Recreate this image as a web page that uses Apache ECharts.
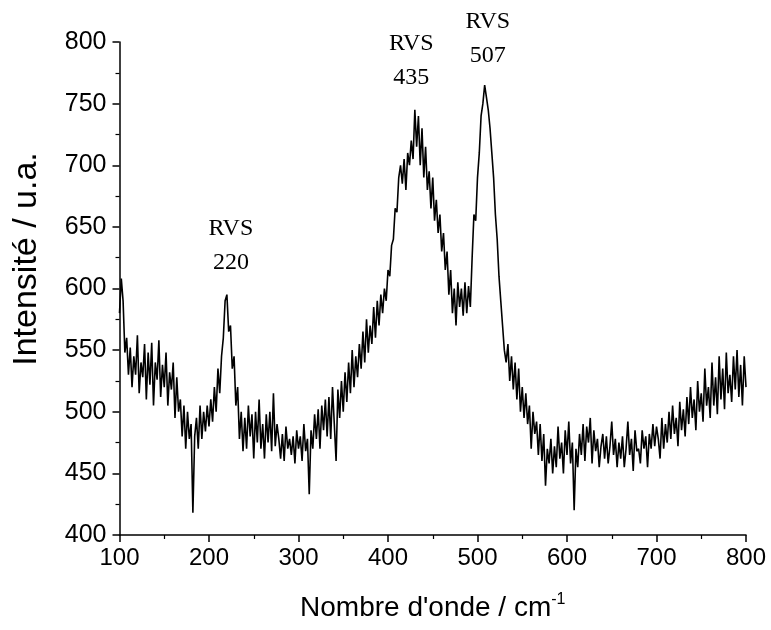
<!DOCTYPE html>
<html><head><meta charset="utf-8">
<script src="https://cdn.jsdelivr.net/npm/echarts@6/dist/echarts.min.js"></script>
<style>html,body{margin:0;padding:0;background:#fff}#c{width:771px;height:630px}</style>
</head><body><div id="c"></div>
<script>
// Wavenumber grid (cm-1), step 2
const xStart = 100, xStep = 2;
// Intensity values
const intensity = [
580,608,590,548,560,530,552,520,545,530,
562,515,540,528,555,510,548,522,556,505,
540,526,558,512,538,520,548,505,532,518,
540,495,528,500,510,480,505,470,500,478,
490,418,480,495,470,505,478,500,484,505,
488,510,492,520,500,535,515,545,560,590,
595,565,570,535,545,505,520,478,500,468,
495,470,505,480,498,462,500,475,510,470,
490,462,498,475,500,468,515,472,490,478,
462,482,460,488,470,478,465,480,458,485,
470,480,460,490,468,478,433,485,470,498,
478,502,470,505,485,510,480,512,478,520,
490,460,518,495,525,500,532,508,540,515,
550,520,545,528,555,535,565,540,575,548,
570,555,585,560,590,570,595,580,600,590,
615,610,635,640,665,662,690,700,685,705,
680,710,700,720,705,745,715,740,700,730,
690,715,680,695,665,690,655,672,645,660,
630,645,615,630,595,615,580,600,570,605,
585,600,578,605,580,602,585,625,660,655,
690,710,740,750,765,755,745,730,710,690,
660,640,610,590,570,550,540,555,525,545,
518,540,510,535,500,520,495,515,490,505,
470,500,482,492,465,490,460,482,440,470,
458,478,450,472,455,488,462,475,450,485,
465,492,458,475,420,470,455,482,465,490,
460,488,475,495,458,485,468,478,455,472,
482,462,480,458,472,492,465,478,455,475,
462,480,455,470,492,465,478,452,485,468,
470,458,485,470,480,455,482,470,490,472,
488,478,462,495,470,490,475,500,478,505,
482,495,472,508,485,502,480,512,490,520,
495,510,485,525,500,515,492,535,505,520,
495,540,505,528,498,545,510,535,502,548,
515,530,508,545,518,550,512,538,505,545,
520
];
const xTicks = [100,200,300,400,500,600,700,800];
const yTicks = [400,450,500,550,600,650,700,750,800];
const peakLabels = [
  {text:'RVS\n220', x:220},
  {text:'RVS\n435', x:435},
  {text:'RVS\n507', x:507}
];

const data = intensity.map((v,i)=>[xStart + i*xStep, v]);
const chart = echarts.init(document.getElementById('c'));
const FONT = 'Liberation Sans, Arial';
const axisCommon = {
  axisLine:{show:true,onZero:false,lineStyle:{color:'#000',width:1.5}},
  axisTick:{show:true,inside:false,length:7,lineStyle:{color:'#000',width:1.5}},
  minorTick:{show:true,splitNumber:2,length:4,lineStyle:{color:'#000',width:1.2}},
  splitLine:{show:false}
};
chart.setOption({
  animation:false,
  backgroundColor:'#fff',
  grid:{left:119.5,right:25,top:42,bottom:95},
  xAxis:Object.assign({type:'value',min:xTicks[0],max:xTicks[xTicks.length-1],interval:100,
    name:"Nombre d'onde / cm{sup|-1}",nameLocation:'middle',nameGap:57,
    nameTextStyle:{color:'#000',fontFamily:FONT,fontSize:28,
      rich:{sup:{fontSize:16,verticalAlign:'top',padding:[0,0,16,0],color:'#000',fontFamily:FONT}}},
    axisLabel:{color:'#000',fontFamily:FONT,fontSize:24,margin:11}
  },axisCommon),
  yAxis:Object.assign({type:'value',min:yTicks[0],max:yTicks[yTicks.length-1],interval:50,
    axisLabel:{color:'#000',fontFamily:FONT,fontSize:25,margin:13}
  },axisCommon),
  series:[{type:'line',data:data,showSymbol:false,lineStyle:{color:'#000',width:1.6},z:3}]
});
// place peak labels via the library's scale
const labelTop = {220:212, 435:27, 507:5};
const labelDx = {220:4, 435:-8, 507:4};
chart.setOption({graphic: [{
  type:'text', x:27, y:259, rotation:Math.PI/2,
  style:{text:'Intensité / u.a.',fill:'#000',font:'34px "Liberation Sans", Arial',align:'center',verticalAlign:'middle'}
}].concat(peakLabels.map(p=>{
  const px = chart.convertToPixel({xAxisIndex:0}, p.x);
  return {type:'text',x:px + labelDx[p.x],y:labelTop[p.x],
    style:{text:p.text,fill:'#000',font:'24px "Liberation Serif", "Times New Roman", serif',align:'center',lineHeight:34}};
}))});
</script></body></html>
